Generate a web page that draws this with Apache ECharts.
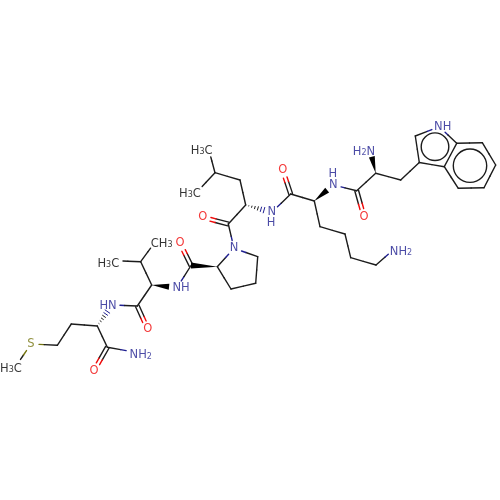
<!DOCTYPE html>
<html><head><meta charset="utf-8">
<style>html,body{margin:0;padding:0;background:#fff}#c{width:500px;height:500px}</style>
<script src="https://cdn.jsdelivr.net/npm/echarts@6/dist/echarts.min.js"></script>
</head><body><div id="c"></div>
<script>
// atom position: [x, y, element]; M is a labelled methyl
const atoms = [
[16,366,'M'],[31,344,'S'],[57.3,345.3,'C'],[71.3,324,'C'],[97.3,326,'C'],[107.3,347.3,'C'],[134,352,'N'],[94,370.7,'O'],
[112,305,'N'],[137.3,306,'C'],[147.7,329,'O'],[151.7,285,'C'],[140.7,261.7,'C'],[155.3,241.7,'M'],[115,260.7,'M'],[177,287.7,'N'],
[191,265.5,'C'],[180,243.3,'O'],[217.3,266.7,'C'],[234,248.3,'N'],[231,289,'C'],[255.7,283.3,'C'],[257.7,256.7,'C'],[228.3,224,'C'],
[202.7,217.3,'O'],[245.7,205,'C'],[240,180,'C'],[215,172.7,'C'],[208.7,149.3,'M'],[196.7,192.3,'M'],[271.7,212.3,'N'],[290.7,194,'C'],
[282.7,170,'O'],[314.3,201,'C'],[320,226.7,'C'],[345,234,'C'],[350.7,257.7,'C'],[376,265,'C'],[394.3,249,'N'],[333.3,185,'N'],
[356.7,190.7,'C'],[364,216.7,'O'],[375.7,173.3,'C'],[370,149,'N'],[400.7,180,'C'],[419.3,162.5,'C'],[415.3,136,'C'],[439.3,126.7,'N'],
[456.7,143.3,'C'],[444.3,166.7,'C'],[482.3,142.7,'C'],[495.7,165,'C'],[484,187.7,'C'],[458.3,188.3,'C']
];
const singleBonds = [[0,1],[1,2],[2,3],[3,4],[4,5],[5,6],[8,9],[9,11],[11,12],[12,13],[12,14],[15,16],[18,19],[18,20],[20,21],[21,22],[22,19],[19,23],[23,25],[25,26],[26,27],[27,28],[27,29],[30,31],[31,33],[33,34],[34,35],[35,36],[36,37],[37,38],[39,40],[40,42],[42,44],[44,45],[45,46],[46,47],[47,48],[48,49],[49,45],[48,50],[50,51],[51,52],[52,53],[53,49]];
const doubleBonds = [[5,7],[9,10],[16,17],[23,24],[31,32],[40,41]];
const wedgeBonds = [[11,15],[18,16],[33,39],[42,43]];
const hashBonds = [[4,8],[25,30]];
const aromaticRings = [[470,165.7,16.7],[435,146.7,13.8]];
// label text, centre x, centre y, colour key
const atomLabels = [
['H3C',11,367,'M'],['S',31,344,'S'],['HN',108,305.7,'N'],['O',147.7,329,'O'],['NH2',140.7,353.5,'N'],['O',94,370.7,'O'],
['CH3',161.7,242,'M'],['H3C',108.3,261.7,'M'],['NH',181,287.7,'N'],['O',180,243.3,'O'],['N',234,248.3,'N'],['O',202.7,217.3,'O'],
['H3C',201.7,149.3,'M'],['H3C',190,192.3,'M'],['N',271.7,212.3,'N'],['H',271,223.3,'N'],['O',282.7,170,'O'],['N',333.3,185,'N'],
['H',332.7,174.3,'N'],['O',364,216.7,'O'],['H2N',364,150,'N'],['NH2',401,250,'N'],['NH',442.7,126.7,'N']
];
const elementColors = {C:'#1c1c1c',M:'#000000',N:'#1e1e90',O:'#f00808',S:'#757510'};
const labelTrim = {C:0,M:8,N:8,O:8,S:8};
const BW = 1.4;

function seg(p,q,color){return {type:'line',shape:{x1:p[0],y1:p[1],x2:q[0],y2:q[1]},style:{stroke:color,lineWidth:BW,lineCap:'round'},silent:true};}
function bondSegs(a,b,pa,pb,off){
  const dx=pb[0]-pa[0],dy=pb[1]-pa[1],L=Math.hypot(dx,dy),ux=dx/L,uy=dy/L;
  const nx=-uy*off,ny=ux*off;
  const ta=labelTrim[a[2]],tb=labelTrim[b[2]];
  const s=[pa[0]+ux*ta+nx,pa[1]+uy*ta+ny],e=[pb[0]-ux*tb+nx,pb[1]-uy*tb+ny],m=[(pa[0]+pb[0])/2+nx,(pa[1]+pb[1])/2+ny];
  return [seg(s,m,elementColors[a[2]==='M'?'C':a[2]]),seg(m,e,elementColors[b[2]==='M'?'C':b[2]])];
}
const endpoints = list => list.map(([a,b])=>[atoms[a][0],atoms[a][1],atoms[b][0],atoms[b][1]]);
const ends = api => [api.coord([api.value(0),api.value(1)]),api.coord([api.value(2),api.value(3)])];
const base = {type:'custom',coordinateSystem:'cartesian2d',animation:false,silent:true,clip:false,encode:{x:0,y:1}};

// one rich style per element, plus a lowered subscript style
const rich = {};
Object.keys(elementColors).forEach(k=>{
  rich[k]={color:elementColors[k],fontSize:11.5,fontFamily:'DejaVu Sans',verticalAlign:'top',height:12,lineHeight:12};
  rich[k+'s']={color:elementColors[k],fontSize:8,fontFamily:'DejaVu Sans',verticalAlign:'bottom',height:10,lineHeight:10,padding:[6,0,0,0]};
});
const labelText = d => d.text.match(/[A-Z]+|\d/g).map(t=>'{'+d.key+(/\d/.test(t)?'s':'')+'|'+t+'}').join('');

const option = {
  animation:false,backgroundColor:'#fff',
  grid:{left:0,right:0,top:0,bottom:0},
  xAxis:{type:'value',min:0,max:500,show:false},
  yAxis:{type:'value',min:0,max:500,inverse:true,show:false},
  series:[
    Object.assign({},base,{name:'single',data:endpoints(singleBonds),renderItem(p,api){
      const [pa,pb]=ends(api),[a,b]=singleBonds[p.dataIndex];
      return {type:'group',children:bondSegs(atoms[a],atoms[b],pa,pb,0)};
    }}),
    Object.assign({},base,{name:'double',data:endpoints(doubleBonds),renderItem(p,api){
      const [pa,pb]=ends(api),[a,b]=doubleBonds[p.dataIndex];
      return {type:'group',children:bondSegs(atoms[a],atoms[b],pa,pb,1.9).concat(bondSegs(atoms[a],atoms[b],pa,pb,-1.9))};
    }}),
    Object.assign({},base,{name:'wedge',data:endpoints(wedgeBonds),renderItem(p,api){
      const [pa,pb]=ends(api),[a,b]=wedgeBonds[p.dataIndex];
      const dx=pb[0]-pa[0],dy=pb[1]-pa[1],L=Math.hypot(dx,dy),ux=dx/L,uy=dy/L,t=labelTrim[atoms[b][2]];
      const e=[pb[0]-ux*t,pb[1]-uy*t],w=3;
      return {type:'polygon',shape:{points:[pa,[e[0]-uy*w,e[1]+ux*w],[e[0]+uy*w,e[1]-ux*w]]},style:{fill:'#000'}};
    }}),
    Object.assign({},base,{name:'hash',data:endpoints(hashBonds),renderItem(p,api){
      const [pa,pb]=ends(api),[a,b]=hashBonds[p.dataIndex];
      const dx=pb[0]-pa[0],dy=pb[1]-pa[1],L=Math.hypot(dx,dy),ux=dx/L,uy=dy/L,len=L-labelTrim[atoms[b][2]];
      const children=[];
      for(let i=1;i<=6;i++){const d=len*i/6,w=3.2*i/6,c=[pa[0]+ux*d,pa[1]+uy*d];
        children.push({type:'line',shape:{x1:c[0]-uy*w,y1:c[1]+ux*w,x2:c[0]+uy*w,y2:c[1]-ux*w},style:{stroke:i>4?elementColors.N:'#1c1c1c',lineWidth:1}});}
      return {type:'group',children};
    }}),
    Object.assign({},base,{name:'rings',data:aromaticRings,renderItem(p,api){
      const c=api.coord([api.value(0),api.value(1)]),r=api.size([api.value(2),0])[0];
      return {type:'circle',shape:{cx:c[0],cy:c[1],r},style:{fill:'none',stroke:'#1c1c1c',lineWidth:BW}};
    }}),
    {type:'scatter',name:'labels',animation:false,silent:true,symbolSize:0,
     data:atomLabels.map(l=>({value:[l[1],l[2]],text:l[0],key:l[3],label:{offset:[0,/\d/.test(l[0])?2:0]}})),
     label:{show:true,position:'inside',align:'center',verticalAlign:'middle',fontFamily:'DejaVu Sans',
       formatter(p){return labelText(p.data);},rich}}
  ]
};
echarts.init(document.getElementById('c'),null,{renderer:'canvas'}).setOption(option);
</script></body></html>
